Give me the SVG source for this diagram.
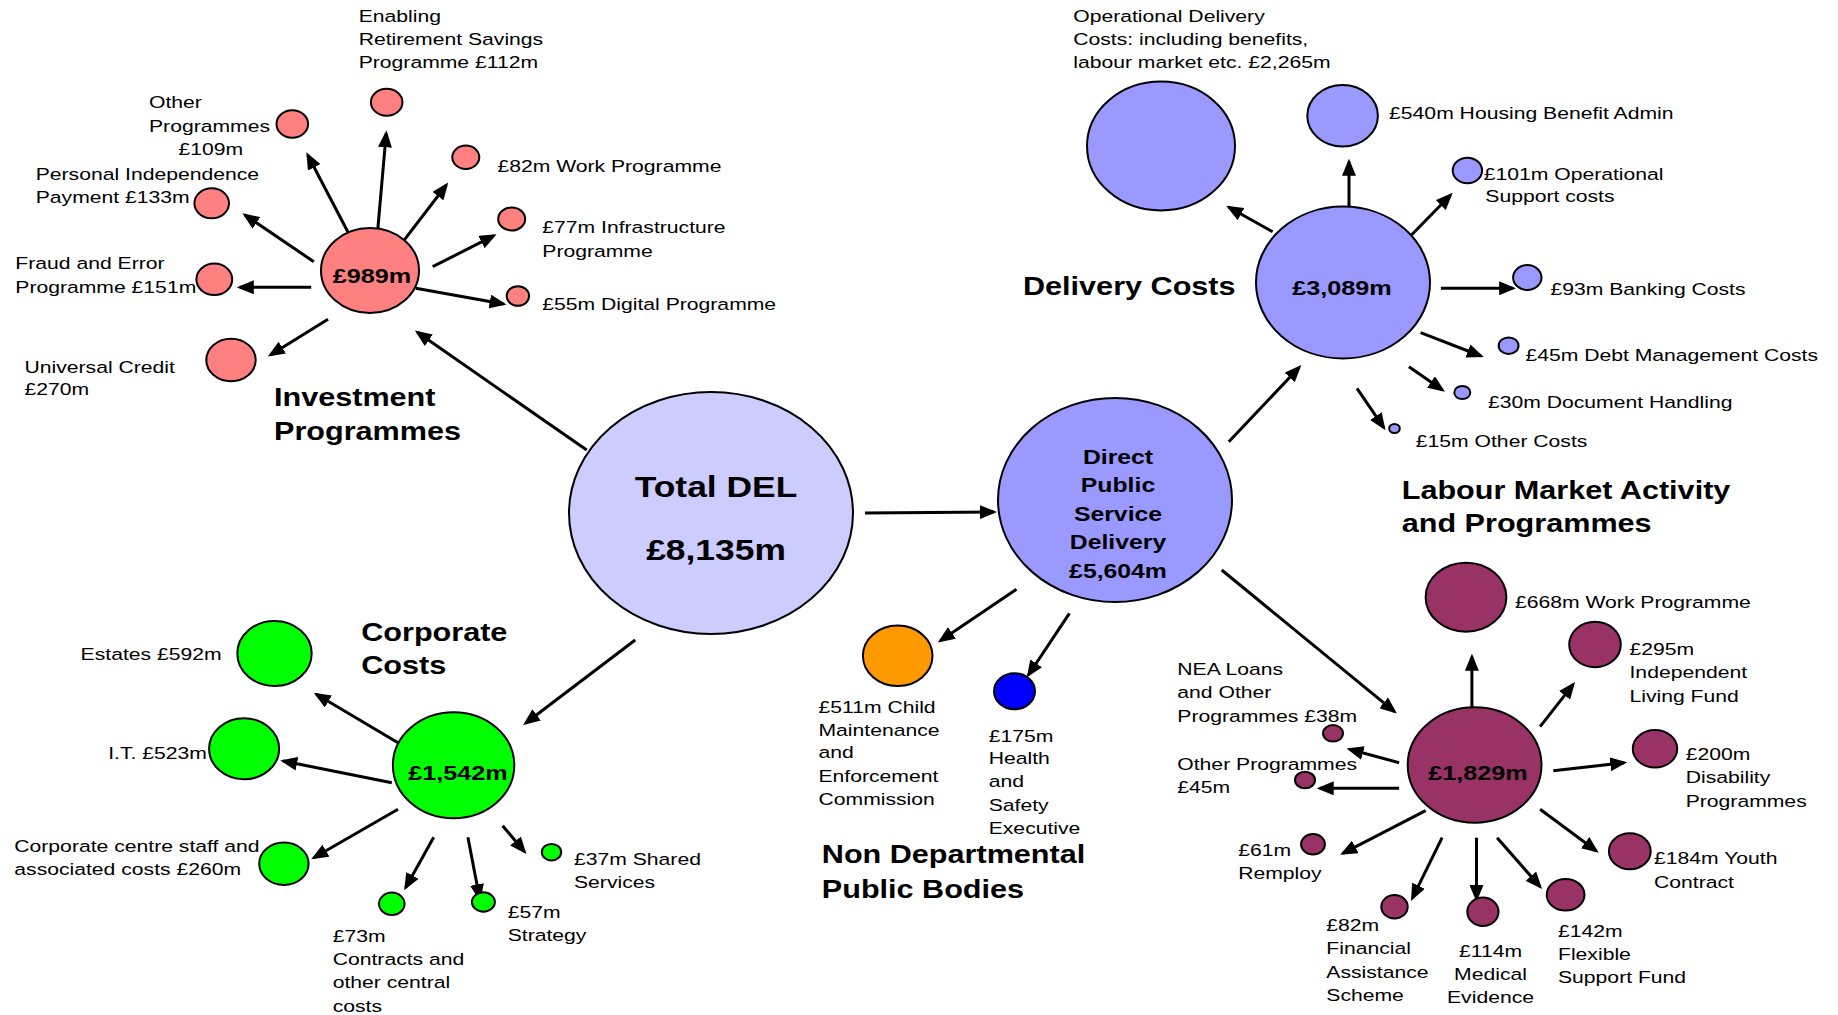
<svg xmlns="http://www.w3.org/2000/svg" width="1838" height="1015" viewBox="0 0 1838 1015">
<style>
text{font-family:"Liberation Sans",Arial,sans-serif;fill:#000}
.l{font-size:17.2px}
.h{font-size:21px;font-weight:bold;text-anchor:middle}
.t{font-size:25.5px;font-weight:bold}
.b{font-size:30px;font-weight:bold;text-anchor:middle}
.m{text-anchor:middle}
ellipse{stroke:#000;stroke-width:2}
.inv{fill:#FF8080}.del{fill:#9999FF}.tot{fill:#CCCCFF}.cor{fill:#00FF00}.lab{fill:#993366}
#connectors line{stroke:#000;stroke-width:3;marker-end:url(#ah)}
</style>
<defs>
<marker id="ah" markerUnits="userSpaceOnUse" markerWidth="17" markerHeight="14" refX="14" refY="7" orient="auto"><path d="M0,0 L17,7 L0,14 z" fill="#000"/></marker>
</defs>
<rect width="1838" height="1015" fill="#fff"/>

<g id="connectors">
<line x1="586.7" y1="450" x2="417.3" y2="332.3"/>
<line x1="865" y1="513" x2="994" y2="512"/>
<line x1="635.2" y1="640" x2="525.5" y2="723.3"/>
<line x1="377.6" y1="231.7" x2="386.2" y2="133.3"/>
<line x1="353" y1="241.7" x2="307.7" y2="155"/>
<line x1="403" y1="241.7" x2="446.4" y2="185"/>
<line x1="313.8" y1="261.7" x2="244.9" y2="215"/>
<line x1="311.2" y1="287.3" x2="239.8" y2="287.3"/>
<line x1="328" y1="319.3" x2="270.4" y2="355"/>
<line x1="432.7" y1="266.7" x2="493.9" y2="235.7"/>
<line x1="415.8" y1="288.3" x2="503.6" y2="304"/>
<line x1="1272.6" y1="231.7" x2="1228.8" y2="207.3"/>
<line x1="1349" y1="207.3" x2="1349" y2="161.7"/>
<line x1="1410.5" y1="236" x2="1450.6" y2="195"/>
<line x1="1440.9" y1="288.3" x2="1513.1" y2="288.3"/>
<line x1="1420.6" y1="332.7" x2="1481" y2="356"/>
<line x1="1408.9" y1="366.7" x2="1442.5" y2="390"/>
<line x1="1357" y1="388.3" x2="1383.8" y2="427.7"/>
<line x1="1228.8" y1="441.7" x2="1299.3" y2="367.3"/>
<line x1="398" y1="742.7" x2="316.3" y2="694.3"/>
<line x1="391.8" y1="782.7" x2="283.2" y2="761"/>
<line x1="398" y1="809.3" x2="313.8" y2="857.7"/>
<line x1="433.7" y1="837.3" x2="405.6" y2="887.7"/>
<line x1="467.9" y1="837.3" x2="479.6" y2="898.3"/>
<line x1="502.6" y1="825.7" x2="524.5" y2="851.7"/>
<line x1="1016.5" y1="589.3" x2="940.3" y2="640.7"/>
<line x1="1069.4" y1="613.3" x2="1028.4" y2="675"/>
<line x1="1221.7" y1="570" x2="1394.5" y2="711.7"/>
<line x1="1471.9" y1="711.7" x2="1471.9" y2="656.7"/>
<line x1="1540.1" y1="726.7" x2="1573.2" y2="684.3"/>
<line x1="1553.3" y1="770.7" x2="1624.2" y2="762.7"/>
<line x1="1540.1" y1="809.3" x2="1596.4" y2="851"/>
<line x1="1497.1" y1="837.7" x2="1540.1" y2="886.7"/>
<line x1="1476.5" y1="837.7" x2="1476.5" y2="899"/>
<line x1="1442.1" y1="837.7" x2="1412.3" y2="898.3"/>
<line x1="1425.6" y1="810.7" x2="1342.8" y2="853.3"/>
<line x1="1399.1" y1="762.7" x2="1349.4" y2="749.3"/>
<line x1="1399.1" y1="788.3" x2="1319.7" y2="788.3"/>
</g>

<g id="total-del">
<ellipse class="tot" cx="711" cy="513" rx="142" ry="121"/>
<text class="b" transform="translate(716 0) scale(1.18 1)"><tspan x="0" y="497">Total DEL</tspan><tspan x="0" y="560">£8,135m</tspan></text>
</g>

<g id="direct-public-service-delivery">
<ellipse class="del" cx="1115" cy="500" rx="117" ry="102"/>
<text class="h" transform="translate(1118 0) scale(1.18 1)"><tspan x="0" y="464">Direct</tspan><tspan x="0" y="492.5">Public</tspan><tspan x="0" y="521">Service</tspan><tspan x="0" y="549.5">Delivery</tspan><tspan x="0" y="578">£5,604m</tspan></text>
</g>

<!-- Investment Programmes -->
<g id="investment-hub">
<ellipse class="inv" cx="370" cy="270.5" rx="49" ry="42.5"/>
<text class="h" transform="translate(372 0) scale(1.2 1)" y="283.3">£989m</text>
</g>
<g id="investment-title"><text class="t" transform="translate(274 0) scale(1.2 1)"><tspan x="0" y="406">Investment</tspan><tspan x="0" y="440">Programmes</tspan></text></g>
<g id="inv-enabling">
<ellipse class="inv" cx="386.7" cy="102.3" rx="15.8" ry="13.5"/>
<text class="l" transform="translate(358.7 0) scale(1.23 1)"><tspan x="0" y="22">Enabling</tspan><tspan x="0" y="45">Retirement Savings</tspan><tspan x="0" y="68">Programme £112m</tspan></text>
</g>
<g id="inv-other">
<ellipse class="inv" cx="292.3" cy="124" rx="15.8" ry="13.7"/>
<text class="l" transform="translate(149 0) scale(1.23 1)"><tspan x="0" y="108">Other</tspan><tspan x="0" y="131.7">Programmes</tspan><tspan x="24" y="155">£109m</tspan></text>
</g>
<g id="inv-pip">
<ellipse class="inv" cx="211.7" cy="203.3" rx="17.3" ry="15"/>
<text class="l" transform="translate(35.7 0) scale(1.23 1)"><tspan x="0" y="180">Personal Independence</tspan><tspan x="0" y="202.7">Payment £133m</tspan></text>
</g>
<g id="inv-fraud">
<ellipse class="inv" cx="214.3" cy="279.3" rx="17.9" ry="15.8"/>
<text class="l" transform="translate(15.3 0) scale(1.23 1)"><tspan x="0" y="269.3">Fraud and Error</tspan><tspan x="0" y="293.3">Programme £151m</tspan></text>
</g>
<g id="inv-uc">
<ellipse class="inv" cx="231" cy="360" rx="24.7" ry="21.3"/>
<text class="l" transform="translate(24.5 0) scale(1.23 1)"><tspan x="0" y="372.7">Universal Credit</tspan><tspan x="0" y="395">£270m</tspan></text>
</g>
<g id="inv-work">
<ellipse class="inv" cx="465.8" cy="157.3" rx="13.5" ry="11.7"/>
<text class="l" transform="translate(497.4 0) scale(1.23 1)" y="171.7">£82m Work Programme</text>
</g>
<g id="inv-infra">
<ellipse class="inv" cx="511.7" cy="219" rx="13.5" ry="11.5"/>
<text class="l" transform="translate(542.3 0) scale(1.23 1)"><tspan x="0" y="233.3">£77m Infrastructure</tspan><tspan x="0" y="256.7">Programme</tspan></text>
</g>
<g id="inv-digital">
<ellipse class="inv" cx="517.9" cy="296" rx="11.2" ry="9.8"/>
<text class="l" transform="translate(542.3 0) scale(1.23 1)" y="310">£55m Digital Programme</text>
</g>

<!-- Delivery Costs -->
<g id="delivery-hub">
<ellipse class="del" cx="1343" cy="282.5" rx="87" ry="76"/>
<text class="h" transform="translate(1342 0) scale(1.2 1)" y="295">£3,089m</text>
</g>
<g id="delivery-title"><text class="t" transform="translate(1023 0) scale(1.2 1)" y="295">Delivery Costs</text></g>
<g id="del-operational">
<ellipse class="del" cx="1161" cy="146" rx="74" ry="64.5"/>
<text class="l" transform="translate(1073.2 0) scale(1.23 1)"><tspan x="0" y="21.7">Operational Delivery</tspan><tspan x="0" y="45">Costs: including benefits,</tspan><tspan x="0" y="68.3">labour market etc. £2,265m</tspan></text>
</g>
<g id="del-housing">
<ellipse class="del" cx="1342.6" cy="115.8" rx="35.3" ry="30.8"/>
<text class="l" transform="translate(1389.1 0) scale(1.23 1)" y="119">£540m Housing Benefit Admin</text>
</g>
<g id="del-opsupport">
<ellipse class="del" cx="1467.4" cy="170.5" rx="14.7" ry="12.8"/>
<text class="l" transform="translate(1483.7 0) scale(1.23 1)"><tspan x="0" y="180">£101m Operational</tspan><tspan x="1.3" y="201.7">Support costs</tspan></text>
</g>
<g id="del-banking">
<ellipse class="del" cx="1527.3" cy="277.5" rx="14.2" ry="12.5"/>
<text class="l" transform="translate(1550.5 0) scale(1.23 1)" y="295">£93m Banking Costs</text>
</g>
<g id="del-debt">
<ellipse class="del" cx="1508.6" cy="345.7" rx="9.9" ry="8.3"/>
<text class="l" transform="translate(1525.4 0) scale(1.23 1)" y="361">£45m Debt Management Costs</text>
</g>
<g id="del-document">
<ellipse class="del" cx="1462.3" cy="392.5" rx="8" ry="6.6"/>
<text class="l" transform="translate(1488 0) scale(1.23 1)" y="408.3">£30m Document Handling</text>
</g>
<g id="del-other">
<ellipse class="del" cx="1394.5" cy="428.5" rx="5.3" ry="4.5"/>
<text class="l" transform="translate(1415.8 0) scale(1.23 1)" y="446.7">£15m Other Costs</text>
</g>

<!-- Corporate Costs -->
<g id="corporate-hub">
<ellipse class="cor" cx="453.6" cy="765.3" rx="60.7" ry="53"/>
<text class="h" transform="translate(458 0) scale(1.2 1)" y="780">£1,542m</text>
</g>
<g id="corporate-title"><text class="t" transform="translate(361.2 0) scale(1.2 1)"><tspan x="0" y="640.7">Corporate</tspan><tspan x="0" y="674.3">Costs</tspan></text></g>
<g id="cor-estates">
<ellipse class="cor" cx="274.5" cy="653.5" rx="37.2" ry="32.5"/>
<text class="l" transform="translate(80.6 0) scale(1.23 1)" y="660">Estates £592m</text>
</g>
<g id="cor-it">
<ellipse class="cor" cx="244.1" cy="748.8" rx="35" ry="30.5"/>
<text class="l" transform="translate(108.2 0) scale(1.23 1)" y="759.3">I.T. £523m</text>
</g>
<g id="cor-centre">
<ellipse class="cor" cx="283.9" cy="863.8" rx="24.7" ry="21.2"/>
<text class="l" transform="translate(14.3 0) scale(1.23 1)"><tspan x="0" y="851.7">Corporate centre staff and</tspan><tspan x="0" y="875">associated costs £260m</tspan></text>
</g>
<g id="cor-shared">
<ellipse class="cor" cx="551.5" cy="852.2" rx="9.7" ry="8.3"/>
<text class="l" transform="translate(574 0) scale(1.23 1)"><tspan x="0" y="865">£37m Shared</tspan><tspan x="0" y="888.3">Services</tspan></text>
</g>
<g id="cor-contracts">
<ellipse class="cor" cx="391.8" cy="903.8" rx="12.8" ry="11.2"/>
<text class="l" transform="translate(332.7 0) scale(1.23 1)"><tspan x="0" y="941.7">£73m</tspan><tspan x="0" y="965">Contracts and</tspan><tspan x="0" y="988.3">other central</tspan><tspan x="0" y="1011.7">costs</tspan></text>
</g>
<g id="cor-strategy">
<ellipse class="cor" cx="483.4" cy="902" rx="11.5" ry="9.7"/>
<text class="l" transform="translate(507.7 0) scale(1.23 1)"><tspan x="0" y="917.7">£57m</tspan><tspan x="0" y="941">Strategy</tspan></text>
</g>

<!-- Non Departmental Public Bodies -->
<g id="ndpb-title"><text class="t" transform="translate(821.8 0) scale(1.2 1)"><tspan x="0" y="863.3">Non Departmental</tspan><tspan x="0" y="897.7">Public Bodies</tspan></text></g>
<g id="ndpb-cmec">
<ellipse cx="897.7" cy="655.8" rx="34.8" ry="30.2" fill="#FF9900"/>
<text class="l" transform="translate(818.5 0) scale(1.23 1)"><tspan x="0" y="712.7">£511m Child</tspan><tspan x="0" y="736">Maintenance</tspan><tspan x="0" y="758.3">and</tspan><tspan x="0" y="781.7">Enforcement</tspan><tspan x="0" y="805">Commission</tspan></text>
</g>
<g id="ndpb-hse">
<ellipse cx="1014.5" cy="691.3" rx="20.5" ry="18" fill="#0000FF"/>
<text class="l" transform="translate(988.7 0) scale(1.23 1)"><tspan x="0" y="741.7">£175m</tspan><tspan x="0" y="764">Health</tspan><tspan x="0" y="787.3">and</tspan><tspan x="0" y="810.7">Safety</tspan><tspan x="0" y="834">Executive</tspan></text>
</g>

<!-- Labour Market Activity and Programmes -->
<g id="labour-hub">
<ellipse class="lab" cx="1474.6" cy="765" rx="66.9" ry="57.7"/>
<text class="h" transform="translate(1478 0) scale(1.2 1)" y="780">£1,829m</text>
</g>
<g id="labour-title"><text class="t" transform="translate(1401.7 0) scale(1.2 1)"><tspan x="0" y="499.3">Labour Market Activity</tspan><tspan x="0" y="531.7">and Programmes</tspan></text></g>
<g id="lab-work">
<ellipse class="lab" cx="1466" cy="597.2" rx="40.4" ry="34.5"/>
<text class="l" transform="translate(1515 0) scale(1.23 1)" y="608.3">£668m Work Programme</text>
</g>
<g id="lab-ilf">
<ellipse class="lab" cx="1595" cy="644.5" rx="25.8" ry="22.8"/>
<text class="l" transform="translate(1629.5 0) scale(1.23 1)"><tspan x="0" y="655">£295m</tspan><tspan x="0" y="678.3">Independent</tspan><tspan x="0" y="701.7">Living Fund</tspan></text>
</g>
<g id="lab-disability">
<ellipse class="lab" cx="1655" cy="748.8" rx="22.2" ry="18.8"/>
<text class="l" transform="translate(1685.7 0) scale(1.23 1)"><tspan x="0" y="760">£200m</tspan><tspan x="0" y="783.3">Disability</tspan><tspan x="0" y="806.7">Programmes</tspan></text>
</g>
<g id="lab-youth">
<ellipse class="lab" cx="1629.8" cy="851.3" rx="20.9" ry="18"/>
<text class="l" transform="translate(1654 0) scale(1.23 1)"><tspan x="0" y="864.3">£184m Youth</tspan><tspan x="0" y="887.7">Contract</tspan></text>
</g>
<g id="lab-flexible">
<ellipse class="lab" cx="1565.6" cy="894.8" rx="18.9" ry="15.8"/>
<text class="l" transform="translate(1558 0) scale(1.23 1)"><tspan x="0" y="936.7">£142m</tspan><tspan x="0" y="960">Flexible</tspan><tspan x="0" y="983.3">Support Fund</tspan></text>
</g>
<g id="lab-medical">
<ellipse class="lab" cx="1482.9" cy="911.8" rx="15.6" ry="14.2"/>
<text class="l m" transform="translate(1490.5 0) scale(1.23 1)"><tspan x="0" y="956.7">£114m</tspan><tspan x="0" y="980">Medical</tspan><tspan x="0" y="1003.3">Evidence</tspan></text>
</g>
<g id="lab-financial">
<ellipse class="lab" cx="1394.5" cy="906.7" rx="13.2" ry="11.7"/>
<text class="l" transform="translate(1326.3 0) scale(1.23 1)"><tspan x="0" y="931">£82m</tspan><tspan x="0" y="954.3">Financial</tspan><tspan x="0" y="977.7">Assistance</tspan><tspan x="0" y="1001">Scheme</tspan></text>
</g>
<g id="lab-remploy">
<ellipse class="lab" cx="1313" cy="844.2" rx="11.9" ry="10.2"/>
<text class="l" transform="translate(1238.2 0) scale(1.23 1)"><tspan x="0" y="856">£61m</tspan><tspan x="0" y="879.3">Remploy</tspan></text>
</g>
<g id="lab-nea">
<ellipse class="lab" cx="1333" cy="733.3" rx="10" ry="8.3"/>
<text class="l" transform="translate(1177.3 0) scale(1.23 1)"><tspan x="0" y="675">NEA Loans</tspan><tspan x="0" y="698.3">and Other</tspan><tspan x="0" y="721.7">Programmes £38m</tspan></text>
</g>
<g id="lab-other">
<ellipse class="lab" cx="1305" cy="780" rx="10" ry="8.3"/>
<text class="l" transform="translate(1177.3 0) scale(1.23 1)"><tspan x="0" y="770">Other Programmes</tspan><tspan x="0" y="793.3">£45m</tspan></text>
</g>
</svg>
